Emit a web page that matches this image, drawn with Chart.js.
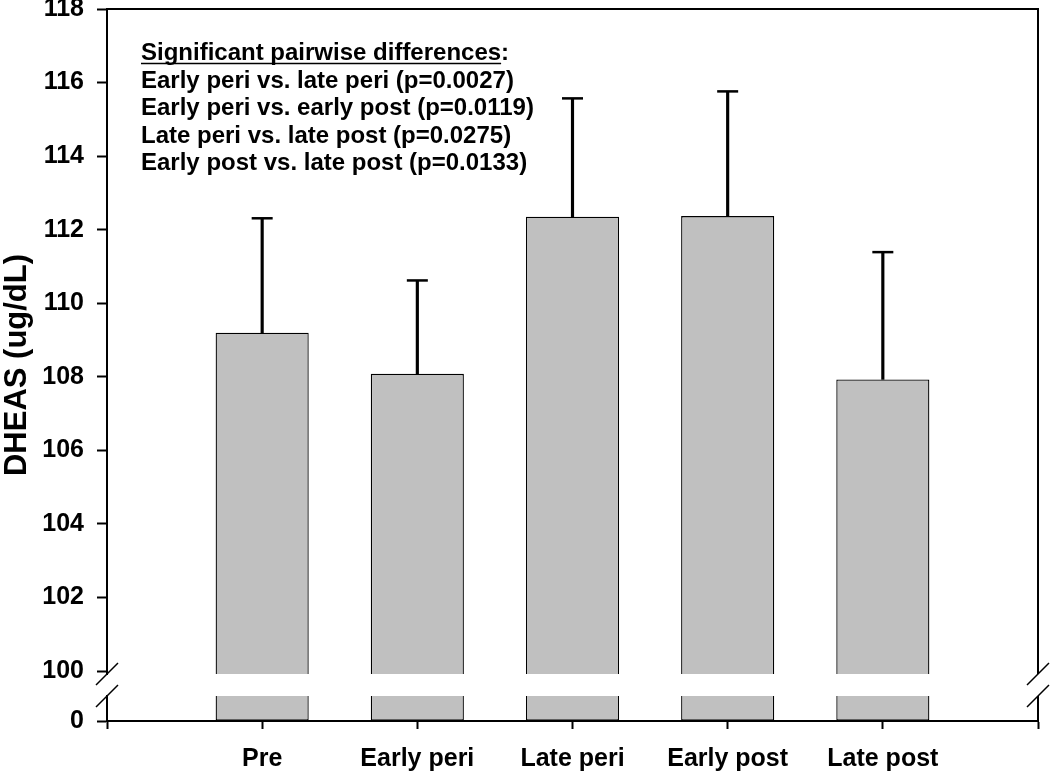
<!DOCTYPE html>
<html><head><meta charset="utf-8">
<script src="https://cdn.jsdelivr.net/npm/chart.js@4.4.1/dist/chart.umd.min.js"></script>
<style>html,body{margin:0;padding:0;background:#fff;}#wrap{width:1050px;height:773px;position:relative;}</style>
</head><body><div id="wrap"><canvas id="c"></canvas></div>
<script>
// ---- data ----
const categories = ['Pre', 'Early peri', 'Late peri', 'Early post', 'Late post'];
const means = [109.20, 108.08, 112.35, 112.37, 107.93];
const errors = [3.11, 2.54, 3.22, 3.39, 3.46];
const upperTicks = [100, 102, 104, 106, 108, 110, 112, 114, 116, 118];
const lowerTicks = [0];
const notes = [
  'Significant pairwise differences:',
  'Early peri vs. late peri (p=0.0027)',
  'Early peri vs. early post (p=0.0119)',
  'Late peri vs. late post (p=0.0275)',
  'Early post vs. late post (p=0.0133)'
];
const yTitle = 'DHEAS (ug/dL)';
const BREAK_VALUE = 100;

// ---- derived ----
const FONT = '"Liberation Sans", Arial, Helvetica, sans-serif';
const labels = [''].concat(categories, ['']);
const pad = arr => [null].concat(arr, [null]);
const upperBars = pad(means);
const lowerBars = pad(means.map(v => Math.min(v, BREAK_VALUE)));
const whiskers = pad(means.map((m, i) => [m, m + errors[i]]));
const caps = pad(means.map((m, i) => m + errors[i]));

const fitLeft = s => { s.width = 107; s.paddingTop = 0; s.paddingBottom = 0; };

const decor = {
  id: 'decor',
  afterDraw(chart) {
    const ctx = chart.ctx, a = chart.chartArea;
    const yU = chart.scales.y, yL = chart.scales.yLow;
    const gapTop = yU.bottom, gapBot = yL.getPixelForValue(BREAK_VALUE);
    ctx.save();
    ctx.strokeStyle = '#000'; ctx.lineWidth = 2;
    ctx.beginPath();
    ctx.moveTo(a.left - 1, a.top); ctx.lineTo(a.right + 1, a.top);
    ctx.moveTo(a.right, a.top); ctx.lineTo(a.right, gapTop);
    ctx.moveTo(a.right, gapBot); ctx.lineTo(a.right, a.bottom);
    ctx.stroke();
    ctx.fillStyle = '#fff';
    ctx.fillRect(a.left - 3, gapTop + 1, 6, gapBot - gapTop - 2);
    ctx.lineWidth = 1.5;
    ctx.beginPath();
    [a.left, a.right].forEach(cx => {
      [gapTop, gapBot].forEach(cy => {
        ctx.moveTo(cx - 11, cy + 11); ctx.lineTo(cx + 11, cy - 11);
      });
    });
    ctx.stroke();
    ctx.fillStyle = '#000';
    ctx.font = 'bold 24px ' + FONT;
    ctx.textAlign = 'left'; ctx.textBaseline = 'alphabetic';
    const x0 = 141, b0 = 60, lh = 27.5;
    notes.forEach((t, i) => ctx.fillText(t, x0, b0 + i * lh));
    const ul = notes[0].replace(/:$/, '');
    const w = ctx.measureText(ul).width;
    ctx.lineWidth = 1.6;
    ctx.beginPath(); ctx.moveTo(x0, b0 + 3.5); ctx.lineTo(x0 + w, b0 + 3.5); ctx.stroke();
    ctx.font = 'bold 31px ' + FONT;
    ctx.textAlign = 'center'; ctx.textBaseline = 'middle';
    ctx.translate(17, (a.top + a.bottom) / 2);
    ctx.rotate(-Math.PI / 2);
    ctx.fillText(yTitle, 0, 0);
    ctx.restore();
  }
};

const tickFont = { family: FONT, size: 25, weight: 'bold' };
const gridOpts = (len) => ({ display: true, offset: false, drawOnChartArea: false, drawTicks: true, tickLength: len, tickWidth: 2, tickColor: '#000' });
const borderOpts = { display: true, color: '#000', width: 2 };

new Chart(document.getElementById('c'), {
  data: {
    labels: labels,
    datasets: [
      { type: 'bar', data: upperBars, yAxisID: 'y', backgroundColor: '#c0c0c0', borderColor: '#000', borderWidth: 1.3, borderSkipped: 'bottom', grouped: false, barPercentage: 0.6, categoryPercentage: 1, order: 2 },
      { type: 'bar', data: lowerBars, yAxisID: 'yLow', backgroundColor: '#c0c0c0', borderColor: '#000', borderWidth: 1.3, borderSkipped: 'top', grouped: false, barPercentage: 0.6, categoryPercentage: 1, order: 2 },
      { type: 'bar', data: whiskers, yAxisID: 'y', backgroundColor: '#000', borderWidth: 0, grouped: false, barThickness: 2.5, order: 1 },
      { type: 'line', data: caps, yAxisID: 'y', showLine: false, pointStyle: 'line', pointRadius: 10.5, pointHoverRadius: 10.5, borderColor: '#000', pointBorderColor: '#000', pointBorderWidth: 2.5, borderWidth: 2.5, order: 0 }
    ]
  },
  options: {
    responsive: true, maintainAspectRatio: false, animation: false,
    layout: { autoPadding: false, padding: { left: 0, right: 12, top: 9, bottom: 0 } },
    plugins: { legend: { display: false }, tooltip: { enabled: false }, title: { display: false } },
    scales: {
      x: {
        type: 'category', offset: false,
        grid: gridOpts(8), border: borderOpts,
        ticks: { font: tickFont, color: '#000', padding: 15, maxRotation: 0, autoSkip: false },
        afterFit: s => { s.paddingLeft = 0; s.paddingRight = 0; s.height = 52; }
      },
      y: {
        type: 'linear', position: 'left', stack: 'v', stackWeight: 665, weight: 2,
        min: 99.92, max: 118,
        grid: gridOpts(10), border: borderOpts,
        ticks: { font: tickFont, color: '#000', padding: 13 },
        afterBuildTicks: s => { s.ticks = upperTicks.map(v => ({ value: v })); },
        afterFit: fitLeft
      },
      yLow: {
        type: 'linear', position: 'left', stack: 'v', stackWeight: 47, weight: 1,
        min: 0, max: 188,
        grid: gridOpts(10), border: borderOpts,
        ticks: { font: tickFont, color: '#000', padding: 13 },
        afterBuildTicks: s => { s.ticks = lowerTicks.map(v => ({ value: v })); },
        afterFit: fitLeft
      }
    }
  },
  plugins: [decor]
});
</script>
</body></html>
